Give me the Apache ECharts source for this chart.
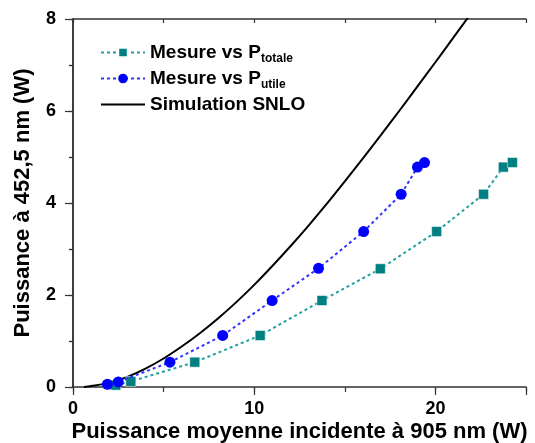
<!DOCTYPE html>
<html><head><meta charset="utf-8">
<script src="https://cdn.jsdelivr.net/npm/echarts@6/dist/echarts.min.js"></script>
<style>html,body{margin:0;padding:0;background:#fff}#c{width:535px;height:443px}</style>
</head><body><div id="c"></div>
<script>
// Data
const totaleX = [2.36, 3.19, 6.72, 10.33, 13.74, 16.96, 20.07, 22.66, 23.75, 24.25];
const totaleY = [0.04, 0.12, 0.54, 1.12, 1.88, 2.57, 3.38, 4.19, 4.78, 4.88];
const utileX  = [1.90, 2.50, 5.35, 8.26, 10.99, 13.55, 16.04, 18.11, 19.01, 19.40];
const utileY  = [0.06, 0.11, 0.54, 1.12, 1.88, 2.58, 3.38, 4.19, 4.78, 4.88];
const simX = [0.6, 1, 2, 3, 4, 5, 6, 7, 8, 9, 10, 11, 12, 13, 14, 15, 16, 17, 18, 19, 20, 21, 22];
const simY = [0, 0.02, 0.09, 0.22, 0.40, 0.62, 0.88, 1.17, 1.49, 1.84, 2.22, 2.63, 3.06, 3.51, 3.98, 4.47, 4.97, 5.48, 6.00, 6.53, 7.06, 7.60, 8.14];
const xTicks = [0, 10, 20];
const yTicks = [0, 2, 4, 6, 8];

const pair = (xs, ys) => xs.map((x, i) => [x, ys[i]]);
const FONT = '"Liberation Sans", Arial, sans-serif';
const chart = echarts.init(document.getElementById('c'), null, {renderer: 'canvas'});
const frame = {show: true, lineStyle: {color: '#333', width: 1.5}};
const tickStyle = {color: '#333', width: 1.2};
chart.setOption({
  animation: false,
  grid: {left: 73, right: 9, top: 19, bottom: 56, containLabel: false, outerBoundsMode: 'none'},
  legend: {
    orient: 'vertical', left: 95, top: 38, itemWidth: 44, itemHeight: 12, itemGap: 4,
    textStyle: {fontFamily: FONT, fontWeight: 'bold', fontSize: 19, color: '#000',
      rich: {
        m: {fontFamily: FONT, fontWeight: 'bold', fontSize: 19, color: '#000'},
        s: {fontFamily: FONT, fontWeight: 'bold', fontSize: 12, color: '#000', padding: [13, 0, 0, 0]}
      }},
    formatter: function (n) {
      if (n === 'totale') return '{m|Mesure vs P}{s|totale}';
      if (n === 'utile') return '{m|Mesure vs P}{s|utile}';
      return '{m|' + n + '}';
    },
    data: ['totale', 'utile', {name: 'Simulation SNLO', itemStyle: {opacity: 0}}]
  },
  xAxis: [
    {type: 'value', min: 0, max: 25, interval: 10, position: 'bottom',
     name: 'Puissance moyenne incidente à 905 nm (W)', nameLocation: 'middle', nameGap: 34, nameMoveOverlap: false,
     nameTextStyle: {fontFamily: FONT, fontWeight: 'bold', fontSize: 22, color: '#000'},
     axisLine: frame, axisTick: {show: true, length: 8, lineStyle: tickStyle},
     axisLabel: {fontFamily: FONT, fontWeight: 'bold', fontSize: 18, color: '#000', margin: 13,
       formatter: v => xTicks.includes(v) ? String(v) : ''},
     splitLine: {show: false}},
    {type: 'value', min: 0, max: 25, interval: 5, position: 'bottom', gridIndex: 0,
     axisLine: {show: false}, axisTick: {show: true, length: 5, lineStyle: tickStyle},
     axisLabel: {show: false}, splitLine: {show: false}},
    {type: 'value', min: 0, max: 25, interval: 5, position: 'top',
     axisLine: frame, axisTick: {show: true, inside: true, length: 4, lineStyle: tickStyle},
     axisLabel: {show: false}, splitLine: {show: false}}
  ],
  yAxis: [
    {type: 'value', min: 0, max: 8, interval: 2, position: 'left',
     name: 'Puissance à 452,5 nm (W)', nameLocation: 'middle', nameGap: 39, nameMoveOverlap: false,
     nameTextStyle: {fontFamily: FONT, fontWeight: 'bold', fontSize: 22, color: '#000'},
     axisLine: frame, axisTick: {show: true, length: 8, lineStyle: tickStyle},
     minorTick: {show: true, splitNumber: 2, length: 4, lineStyle: tickStyle},
     axisLabel: {fontFamily: FONT, fontWeight: 'bold', fontSize: 18, color: '#000', margin: 17,
       formatter: v => yTicks.includes(v) ? String(v) : ''},
     splitLine: {show: false}, minorSplitLine: {show: false}},
    {type: 'value', min: 0, max: 8, interval: 1, position: 'right',
     axisLine: frame, axisTick: {show: true, inside: true, length: 4, lineStyle: tickStyle},
     axisLabel: {show: false}, splitLine: {show: false}}
  ],
  series: [
    {name: 'Simulation SNLO', type: 'line', data: pair(simX, simY), smooth: 0.3, showSymbol: false, symbol: 'none',
     lineStyle: {color: '#000', width: 2}, itemStyle: {color: '#000'}, z: 2, clip: true},
    {name: 'totale', type: 'line', data: pair(totaleX, totaleY), symbol: 'rect', symbolSize: 10,
     itemStyle: {color: '#008080', borderColor: '#ffffff', borderWidth: 0.5},
     lineStyle: {color: '#20a0a0', width: 2, type: [3, 3]}, z: 3},
    {name: 'utile', type: 'line', data: pair(utileX, utileY), symbol: 'circle', symbolSize: 11,
     itemStyle: {color: '#0000ff'},
     lineStyle: {color: '#3333ff', width: 2, type: [3, 3]}, z: 4}
  ]
});
</script></body></html>
